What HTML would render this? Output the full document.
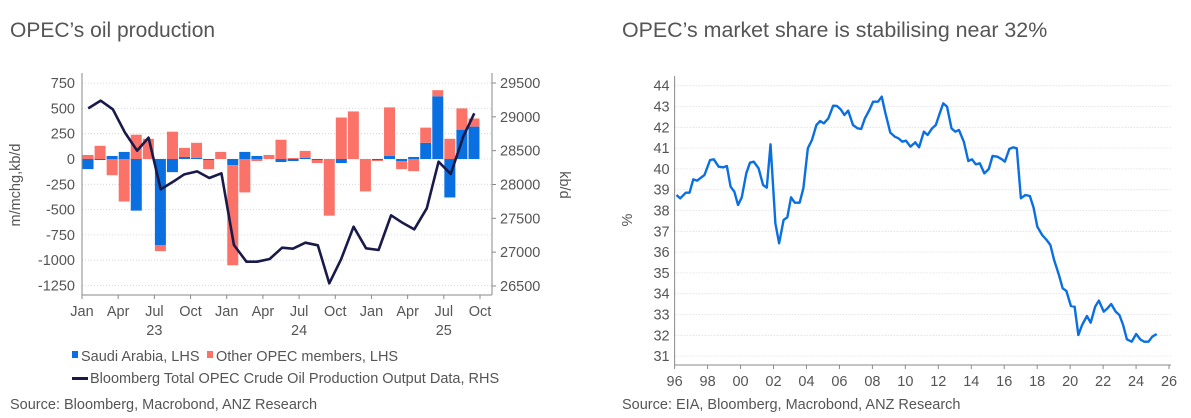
<!DOCTYPE html><html><head><meta charset="utf-8"><style>
body{margin:0;background:#fff;width:1191px;height:418px;overflow:hidden;font-family:"Liberation Sans",sans-serif;}
svg{position:absolute;left:0;top:0}
text{font-family:"Liberation Sans",sans-serif;fill:#555}
</style></head><body>
<svg id="s" width="1191" height="418" xmlns="http://www.w3.org/2000/svg">
<text x="10" y="37" font-size="21">OPEC’s oil production</text>
<text x="622" y="37" font-size="21.4">OPEC’s market share is stabilising near 32%</text>
<g id="L"></g><g id="R"></g>
<text x="10" y="409" font-size="14.5">Source: Bloomberg, Macrobond, ANZ Research</text>
<text x="622" y="409" font-size="14.5">Source: EIA, Bloomberg, Macrobond, ANZ Research</text>
<rect x="72" y="351" width="6" height="7" fill="#0a6fe0"/>
<text x="81" y="361" font-size="14.5">Saudi Arabia, LHS</text>
<rect x="207" y="351" width="6" height="7" fill="#fb7268"/>
<text x="216" y="361" font-size="14.5">Other OPEC members, LHS</text>
<rect x="72" y="377" width="16" height="3" fill="#1a1a4a"/>
<text x="90" y="383" font-size="14.5">Bloomberg Total OPEC Crude Oil Production Output Data, RHS</text>
</svg>
<script>
const NS="http://www.w3.org/2000/svg";
function el(p,t,a,txt){const e=document.createElementNS(NS,t);for(const k in a)e.setAttribute(k,a[k]);if(txt!=null)e.textContent=txt;p.appendChild(e);return e;}
const L=document.getElementById('L'),R=document.getElementById('R');
const FS=14.5;
// LEFT
const x0=82,x1=492,z=159,k=25.3/250,mw=(480-82)/33;
for(let i=0;i<9;i++){const v=750-250*i,y=z-v*k;
 el(L,'line',{x1:x0,x2:x1,y1:y,y2:y,stroke:'#ccd',"stroke-dasharray":'1 2',"stroke-width":0.8});
 el(L,'text',{x:75,y:y+5,"font-size":FS,"text-anchor":"end"},v);}
for(let i=0;i<7;i++){const v=29500-500*i,y=83+i*33.83;
 el(L,'text',{x:500,y:y+5,"font-size":FS},v);
 el(L,'line',{x1:492,x2:496,y1:y,y2:y,stroke:'#888'});}
el(L,'line',{x1:x0,x2:x0,y1:73,y2:295,stroke:'#888'});
el(L,'line',{x1:x1,x2:x1,y1:73,y2:295,stroke:'#888'});
el(L,'line',{x1:x0,x2:x1,y1:295,y2:295,stroke:'#888'});
const mon=['Jan','Apr','Jul','Oct'];
for(let m=0;m<=33;m+=3){const x=x0+m*mw;el(L,'line',{x1:x,x2:x,y1:295,y2:299,stroke:'#888'});
 el(L,'text',{x:x,y:316,"font-size":FS,"text-anchor":"middle"},mon[(m/3)%4]);}
[['23',6],['24',18],['25',30]].forEach(a=>el(L,'text',{x:x0+a[1]*mw,y:335,"font-size":FS,"text-anchor":"middle"},a[0]));
el(L,'text',{x:0,y:0,"font-size":FS,"text-anchor":"middle",transform:"translate(20,185) rotate(-90)"},'m/mchg,kb/d');
el(L,'text',{x:0,y:0,"font-size":FS,"text-anchor":"middle",transform:"translate(560,185) rotate(90)"},'kb/d');
const B=[[-100,40],[-10,130],[30,-160],[70,-420],[-510,240],[0,200],[-850,-60],[-130,270],[20,90],[10,150],[-10,-90],[0,70],[-60,-990],[70,-330],[30,-20],[0,40],[-30,190],[-20,10],[10,70],[-10,-30],[0,-560],[-40,410],[0,470],[0,-320],[-10,-10],[30,480],[-20,-80],[20,-120],[160,150],[620,60],[-380,200],[290,210],[320,80]];
B.forEach((b,i)=>{const cx=x0+(i+0.5)*mw,w=11,xl=cx-w/2;let pos=0,neg=0;
 [[b[0],'#0a6fe0'],[b[1],'#fb7268']].forEach(s=>{const v=s[0];if(!v)return;let a,c;
  if(v>0){a=pos;c=pos+v;pos=c}else{a=neg;c=neg+v;neg=c}
  const y1=z-Math.max(a,c)*k,y2=z-Math.min(a,c)*k;el(L,'rect',{x:xl,y:y1,width:w,height:y2-y1,fill:s[1]});});});
const LP=[[247,145],[282,122],[316,148],[350,218],[384,272],[416,233],[450,388],[485,365],[516,343],[552,334],[586,354],[620,340],[655,555],[690,605],[720,605],[755,597],[790,563],[820,566],[855,548],[890,556],[922,670],[955,598],[990,500],[1025,565],[1060,570],[1095,466],[1125,487],[1160,508],[1195,445],[1228,305],[1262,342],[1297,230],[1328,160]];
el(L,'polyline',{points:LP.map(p=>(p[0]/2.8)+','+(p[1]/3+60)).join(' '),fill:'none',stroke:'#1a1a4a',"stroke-width":2.6,"stroke-linejoin":"round"});
// RIGHT
const SX=2.68,rx0=600+200/SX,rx1=600+1530/SX,yt=85.7,du=20.8,yr=(1525-200)/SX/30;
for(let v=44;v>=31;v--){const y=yt+(44-v)*du;
 el(R,'line',{x1:rx0,x2:rx1,y1:y,y2:y,stroke:'#ccd',"stroke-dasharray":'1 2',"stroke-width":0.8});
 el(R,'text',{x:rx0-5,y:y+5,"font-size":FS,"text-anchor":"end"},v);}
el(R,'line',{x1:rx0,x2:rx0,y1:76,y2:365,stroke:'#888'});
el(R,'line',{x1:rx0,x2:rx1,y1:365,y2:365,stroke:'#888'});
for(let i=0;i<=15;i++){const x=rx0+i*2*yr;el(R,'line',{x1:x,x2:x,y1:365,y2:369,stroke:'#888'});
 el(R,'text',{x:x,y:386,"font-size":FS,"text-anchor":"middle"},String((96+2*i)%100).padStart(2,'0'));}
el(R,'text',{x:0,y:0,"font-size":FS,"text-anchor":"middle",transform:"translate(632,220) rotate(-90)"},'%');
const RP=[[205,405],[215,415],[230,398],[240,398],[250,358],[260,362],[280,345],[295,300],[305,298],[318,320],[330,322],[340,318],[350,380],[360,395],[370,435],[380,412],[392,340],[402,308],[412,305],[425,325],[437,375],[447,383],[457,253],[470,490],[480,550],[492,480],[502,472],[512,412],[522,428],[535,428],[545,385],[557,265],[568,240],[580,195],[590,183],[600,190],[612,175],[625,137],[635,138],[645,148],[655,165],[665,152],[678,195],[690,205],[700,207],[710,175],[722,150],[732,125],[745,125],[755,110],[765,160],[778,218],[790,230],[800,235],[810,245],[820,242],[832,260],[845,247],[855,262],[868,215],[878,225],[890,205],[900,195],[912,155],[920,130],[930,140],[942,205],[952,215],[962,210],[975,245],[987,303],[997,298],[1007,313],[1018,310],[1030,340],[1042,327],[1052,288],[1065,290],[1077,298],[1085,305],[1097,267],[1107,262],[1117,265],[1128,415],[1140,405],[1152,408],[1162,443],[1172,500],[1185,525],[1197,540],[1207,555],[1217,600],[1230,645],[1240,685],[1250,693],[1262,738],[1272,740],[1282,825],[1292,795],[1305,768],[1315,788],[1327,740],[1337,722],[1350,755],[1360,745],[1370,732],[1382,755],[1392,765],[1402,795],[1412,838],[1425,845],[1437,822],[1448,838],[1458,845],[1470,845],[1480,830],[1492,822]];
el(R,'polyline',{points:RP.map(p=>(p[0]/SX+600)+','+(p[1]/3+60)).join(' '),fill:'none',stroke:'#0a6fe0',"stroke-width":2.4,"stroke-linejoin":"round"});
</script>
</body></html>
